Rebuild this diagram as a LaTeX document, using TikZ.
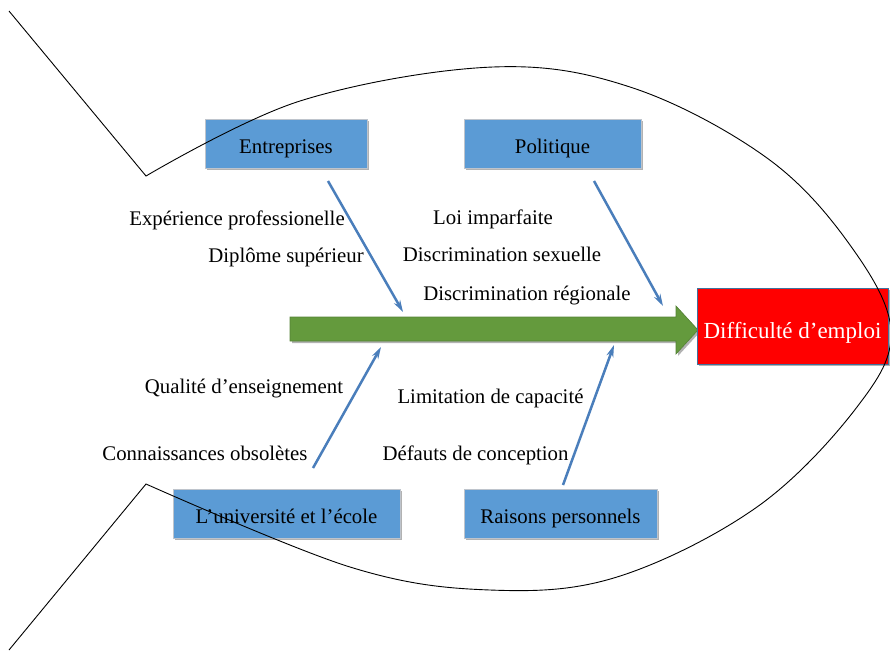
\documentclass[tikz,border=0pt]{standalone}
\usepackage{fontspec}
\setmainfont{Liberation Serif}
\usetikzlibrary{shadows,arrows.meta}
\definecolor{boxblue}{RGB}{91,155,213}
\definecolor{boxedge}{RGB}{190,196,204}
\definecolor{linkblue}{RGB}{74,126,187}
\definecolor{arrowgreen}{RGB}{100,154,61}
\definecolor{greenedge}{RGB}{84,130,53}
\definecolor{rededge}{RGB}{65,113,156}
\begin{document}
\begin{tikzpicture}[x=1pt,y=-1pt,
  cat/.style={fill=boxblue, draw=boxedge, line width=0.6pt,
    drop shadow={shadow xshift=2pt,shadow yshift=-2pt,opacity=0.3,fill=black},
    inner sep=0pt, text height=19pt, text depth=0pt, minimum height=49pt,
    font=\fontsize{20.8}{24}\selectfont},
  effect/.style={fill=red, draw=rededge, line width=0.8pt,
    drop shadow={shadow xshift=2pt,shadow yshift=-2pt,opacity=0.3,fill=black},
    inner sep=0pt, text height=24pt, text depth=0pt, text=white,
    minimum width=191pt, minimum height=76pt,
    font=\fontsize{23}{27}\selectfont},
  lbl/.style={anchor=base, inner sep=0pt, font=\fontsize{20.8}{24}\selectfont},
  bone/.style={draw=linkblue, line width=2.5pt, -{Stealth[length=12pt,width=7pt]}},
  outline/.style={draw=black, line width=0.9pt, line join=miter}]
\useasboundingbox (0,0) rectangle (890,651);

% category boxes
\node[cat, minimum width=162pt] (ent) at (286,143.5) {Entreprises};
\node[cat, minimum width=177pt] (pol) at (552.5,143.5) {Politique};
\node[cat, minimum width=227pt] (uni) at (286.5,513.5) {L’université et l’école};
\node[cat, minimum width=193pt] (rai) at (560.5,513.5) {Raisons personnels};

% spine
\filldraw[fill=arrowgreen, draw=greenedge, line width=0.6pt,
  drop shadow={shadow xshift=2pt,shadow yshift=-2pt,opacity=0.3,fill=black}]
  (290,317) -- (676,317) -- (676,306) -- (698,330) -- (676,354) -- (676,341) -- (290,341) -- cycle;

% effect box
\node[effect] (eff) at (792.5,326) {Difficulté d’emploi};

% bones
\coordinate (b1s) at (328,181); \coordinate (b1e) at (403,312);
\coordinate (b2s) at (594,181); \coordinate (b2e) at (663,306);
\coordinate (b3s) at (313,468); \coordinate (b3e) at (381,347);
\coordinate (b4s) at (563,485); \coordinate (b4e) at (614,345);
\draw[bone] (b1s) -- (b1e);
\draw[bone] (b2s) -- (b2e);
\draw[bone] (b3s) -- (b3e);
\draw[bone] (b4s) -- (b4e);

% causes
\node[lbl] (c1) at (237,225) {Expérience professionelle};
\node[lbl] (c2) at (286,262) {Diplôme supérieur};
\node[lbl] (c3) at (493,224) {Loi imparfaite};
\node[lbl] (c4) at (502,261) {Discrimination sexuelle};
\node[lbl] (c5) at (527,300) {Discrimination régionale};
\node[lbl] (c6) at (244,393) {Qualité d’enseignement};
\node[lbl] (c7) at (205,460) {Connaissances obsolètes};
\node[lbl] (c8) at (490.5,403) {Limitation de capacité};
\node[lbl] (c9) at (475.5,460) {Défauts de conception};

% fish outline
\draw[outline] (9,11) -- plot[smooth, tension=0.6] coordinates {
  (146,176) (300,101) (493,67) (633,88) (767,158) (850,245) (891,331)
  (857,407) (757,507) (617,577) (490,590) (350,567) (146,484)} -- (9,650);
\end{tikzpicture}
\end{document}
